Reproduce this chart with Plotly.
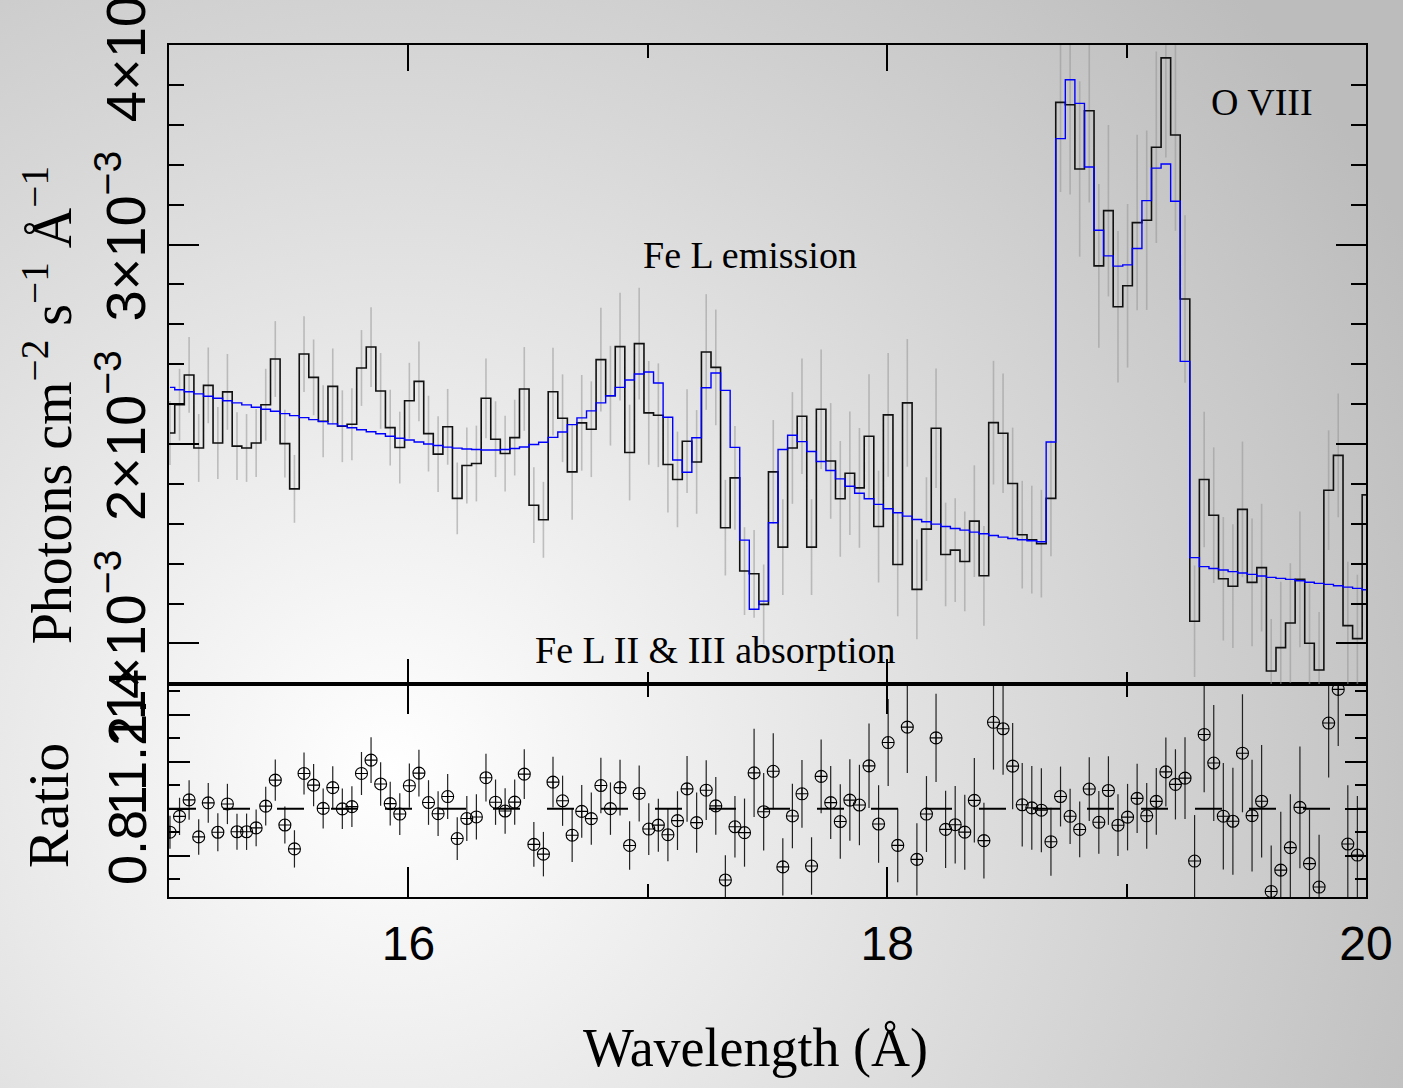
import base64
import numpy as np
import plotly.graph_objects as go

# ---------------- data (flux in 1e-3 photons cm^-2 s^-1 A^-1) ----------------
bin_start = 15.004   # centre of first wavelength bin (A)
bin_width = 0.04     # A

data = [2.055, 2.197, 2.346, 1.980, 2.294, 2.005, 2.261, 1.989, 1.980, 2.005,
        2.197, 2.426, 2.002, 1.775, 2.451, 2.334, 2.114, 2.289, 2.089, 2.099,
        2.381, 2.486, 2.266, 2.082, 1.982, 2.217, 2.314, 2.052, 1.949, 2.086,
        1.727, 1.892, 1.902, 2.229, 2.024, 1.952, 2.032, 2.276, 1.693, 1.620,
        2.262, 2.129, 1.860, 2.106, 2.074, 2.423, 2.242, 2.488, 1.957, 2.503,
        2.156, 2.144, 1.897, 1.822, 2.014, 1.910, 2.461, 2.384, 1.580, 1.830,
        1.363, 1.349, 1.196, 1.860, 1.483, 1.980, 2.139, 1.483, 2.174, 1.915,
        1.725, 1.853, 1.780, 2.039, 1.586, 2.146, 1.396, 2.206, 1.271, 1.573,
        2.079, 1.446, 1.468, 1.411, 1.613, 1.339, 2.107, 2.054, 1.802, 1.545,
        1.520, 1.500, 1.727, 3.713, 3.701, 3.379, 3.671, 2.893, 3.170, 2.688,
        2.793, 3.110, 3.122, 3.488, 3.936, 3.549, 2.727, 1.111, 1.822, 1.643,
        1.324, 1.287, 1.672, 1.306, 1.380, 0.862, 0.979, 1.102, 1.321, 1.001,
        0.867, 1.768, 1.943, 1.089, 1.024, 1.745]

data_err = [0.16, 0.18, 0.19, 0.17, 0.19, 0.18, 0.19, 0.17, 0.17, 0.17,
            0.18, 0.19, 0.17, 0.17, 0.19, 0.19, 0.18, 0.19, 0.18, 0.18,
            0.19, 0.20, 0.19, 0.19, 0.18, 0.19, 0.20, 0.19, 0.19, 0.19,
            0.18, 0.19, 0.19, 0.20, 0.19, 0.19, 0.19, 0.21, 0.19, 0.19,
            0.22, 0.22, 0.24, 0.24, 0.24, 0.26, 0.25, 0.27, 0.24, 0.28,
            0.26, 0.26, 0.24, 0.24, 0.26, 0.26, 0.29, 0.29, 0.24, 0.26,
            0.22, 0.22, 0.20, 0.26, 0.24, 0.28, 0.29, 0.24, 0.30, 0.29,
            0.29, 0.31, 0.30, 0.31, 0.28, 0.31, 0.26, 0.32, 0.25, 0.26,
            0.30, 0.26, 0.26, 0.25, 0.28, 0.25, 0.31, 0.30, 0.28, 0.27,
            0.27, 0.27, 0.29, 0.45, 0.45, 0.44, 0.46, 0.41, 0.43, 0.38,
            0.41, 0.44, 0.45, 0.48, 0.50, 0.48, 0.42, 0.28, 0.34, 0.34,
            0.31, 0.31, 0.34, 0.32, 0.32, 0.26, 0.33, 0.30, 0.34, 0.30,
            0.29, 0.30, 0.31, 0.32, 0.32, 0.33]

model = [2.284, 2.272, 2.262, 2.251, 2.239, 2.229, 2.217, 2.206, 2.196, 2.184,
         2.174, 2.164, 2.152, 2.142, 2.132, 2.122, 2.112, 2.101, 2.091, 2.081,
         2.071, 2.061, 2.051, 2.039, 2.029, 2.020, 2.010, 2.000, 1.992, 1.984,
         1.979, 1.975, 1.972, 1.970, 1.970, 1.972, 1.977, 1.985, 1.997, 2.009,
         2.033, 2.060, 2.097, 2.131, 2.166, 2.206, 2.242, 2.284, 2.321, 2.351,
         2.361, 2.306, 2.134, 1.920, 1.858, 2.031, 2.282, 2.356, 2.269, 1.983,
         1.518, 1.171, 1.212, 1.605, 1.972, 2.044, 2.012, 1.962, 1.912, 1.867,
         1.825, 1.788, 1.753, 1.725, 1.697, 1.675, 1.655, 1.638, 1.621, 1.610,
         1.598, 1.586, 1.576, 1.568, 1.558, 1.550, 1.541, 1.533, 1.526, 1.520,
         1.515, 1.510, 2.010, 3.531, 3.826, 3.708, 3.389, 3.072, 2.943, 2.892,
         2.898, 2.980, 3.220, 3.383, 3.404, 3.217, 2.414, 1.430, 1.385, 1.376,
         1.368, 1.360, 1.353, 1.346, 1.338, 1.331, 1.326, 1.321, 1.314, 1.307,
         1.301, 1.296, 1.289, 1.282, 1.276, 1.269]

flux_ticks = [1, 2, 3, 4]
flux_ticktext = ["1×10<sup>−3</sup>", "2×10<sup>−3</sup>",
                 "3×10<sup>−3</sup>", "4×10<sup>−3</sup>"]
ratio_ticks = [0.8, 1.0, 1.2, 1.4]
ratio_ticktext = ["0.8", "1", "1.2", "1.4"]
x_ticks = [16, 18, 20]

# ---------------- derived -----------------
wl = np.round(bin_start + bin_width * np.arange(len(data)), 3)
d = np.array(data)
m = np.array(model)
e = np.array(data_err)
ratio = d / m
ratio_err = e / m
inside = wl <= 20.0

SERIF = "Liberation Serif"
SANS = "Liberation Sans"

fig = go.Figure()

# top panel: gray error bars
fig.add_trace(go.Scatter(
    x=wl, y=data, mode="markers", xaxis="x2", yaxis="y2",
    marker=dict(size=1, color="rgba(0,0,0,0)"),
    error_y=dict(type="data", array=data_err, color="rgba(150,150,150,0.55)",
                 thickness=1.6, width=0),
    showlegend=False, hoverinfo="skip"))
# data histogram
fig.add_trace(go.Scatter(
    x=wl, y=data, mode="lines", xaxis="x2", yaxis="y2",
    line=dict(shape="hvh", color="#111111", width=1.6), showlegend=False))
# model
fig.add_trace(go.Scatter(
    x=wl, y=model, mode="lines", xaxis="x2", yaxis="y2",
    line=dict(shape="hvh", color="#0000ff", width=1.4), showlegend=False))
# ratio panel
fig.add_trace(go.Scatter(
    x=wl[inside], y=ratio[inside], mode="markers", xaxis="x", yaxis="y",
    marker=dict(symbol="circle-cross-open", size=12, color="black",
                line=dict(width=1.1, color="black")),
    error_y=dict(type="data", array=ratio_err[inside], color="#222222",
                 thickness=1.2, width=0),
    showlegend=False))

fig.add_shape(type="line", xref="x", yref="y", x0=15, x1=20, y0=1, y1=1,
              line=dict(color="black", width=2, dash="27px,27px"))

# background gradient
svg = ("<svg xmlns='http://www.w3.org/2000/svg' width='1403' height='1088'>"
       "<defs><radialGradient id='g' gradientUnits='userSpaceOnUse' cx='390' cy='770' r='1150'>"
       "<stop offset='0' stop-color='#ffffff'/>"
       "<stop offset='0.35' stop-color='#e8e8e8'/>"
       "<stop offset='0.7' stop-color='#d0d0d0'/>"
       "<stop offset='1' stop-color='#bcbcbc'/>"
       "</radialGradient></defs>"
       "<rect width='1403' height='1088' fill='url(#g)'/></svg>")
src = "data:image/svg+xml;base64," + base64.b64encode(svg.encode()).decode()

L, R, T, B = 169, 37, 45, 191
PW, PH = 1403 - L - R, 1088 - T - B
split = (896.7 - 684) / PH

fig.add_layout_image(dict(source=src, xref="paper", yref="paper",
                          x=-L / PW, y=1 + T / PH, sizex=1403 / PW, sizey=1088 / PH,
                          xanchor="left", yanchor="top", sizing="stretch", layer="below"))

axis_common = dict(showline=True, linecolor="black", linewidth=1.6, mirror="allticks",
                   ticks="inside", tickcolor="black", showgrid=False, zeroline=False,
                   automargin=False)

fig.update_layout(
    width=1403, height=1088,
    margin=dict(l=L, r=R, t=T, b=B, autoexpand=False),
    paper_bgcolor="rgba(0,0,0,0)", plot_bgcolor="rgba(0,0,0,0)",
    xaxis=dict(domain=[0, 1], anchor="y", range=[15, 20], tickvals=x_ticks,
               ticklen=30, tickwidth=1.5,
               minor=dict(dtick=1, tick0=15, ticklen=13, ticks="inside", tickcolor="black"),
               tickfont=dict(family=SANS, size=48, color="black"),
               ticklabelstandoff=4, **axis_common),
    xaxis2=dict(domain=[0, 1], anchor="y2", matches="x", range=[15, 20], tickvals=x_ticks,
                ticklen=26, tickwidth=1.5, showticklabels=False,
                minor=dict(dtick=1, tick0=15, ticklen=13, ticks="inside", tickcolor="black"),
                **axis_common),
    yaxis=dict(domain=[0, split], anchor="x", range=[0.624, 1.529],
               tickvals=ratio_ticks, ticktext=ratio_ticktext, tickangle=-90,
               ticklen=21, tickwidth=1.5, ticklabeloverflow="allow",
               minor=dict(dtick=0.1, tick0=0, ticklen=11, ticks="inside", tickcolor="black"),
               tickfont=dict(family=SANS, size=54, color="black"), **axis_common),
    yaxis2=dict(domain=[split, 1], anchor="x2", range=[0.795, 4.0005],
                tickvals=flux_ticks, ticktext=flux_ticktext, tickangle=-90,
                ticklen=30, tickwidth=1.5, ticklabeloverflow="allow",
                minor=dict(dtick=0.2, tick0=0, ticklen=15, ticks="inside", tickcolor="black"),
                tickfont=dict(family=SANS, size=56, color="black"), **axis_common),
)

annos = [
    dict(text="Wavelength (Å)", x=(755 - L) / PW, y=(896.7 - 1048) / PH,
         xref="paper", yref="paper", font=dict(family=SERIF, size=54)),
    dict(text="Photons cm<sup>−2</sup> s<sup>−1</sup> Å<sup>−1</sup>",
         x=(48 - L) / PW, y=(896.7 - 405) / PH, xref="paper", yref="paper",
         textangle=-90, font=dict(family=SERIF, size=56)),
    dict(text="Ratio", x=(48 - L) / PW, y=(896.7 - 805) / PH, xref="paper", yref="paper",
         textangle=-90, font=dict(family=SERIF, size=58)),
    dict(text="Fe L emission", x=17.427, y=2.948, xref="x2", yref="y2",
         font=dict(family=SERIF, size=38)),
    dict(text="O VIII", x=19.566, y=3.715, xref="x2", yref="y2",
         font=dict(family=SERIF, size=38)),
    dict(text="Fe L II &amp; III absorption", x=17.281, y=0.9655, xref="x2", yref="y2",
         font=dict(family=SERIF, size=38)),
]
for a in annos:
    a.setdefault("showarrow", False)
    a["xanchor"] = "center"
    a["yanchor"] = "middle"
    a["font"]["color"] = "black"
    fig.add_annotation(**a)

fig.write_html("out.html")
